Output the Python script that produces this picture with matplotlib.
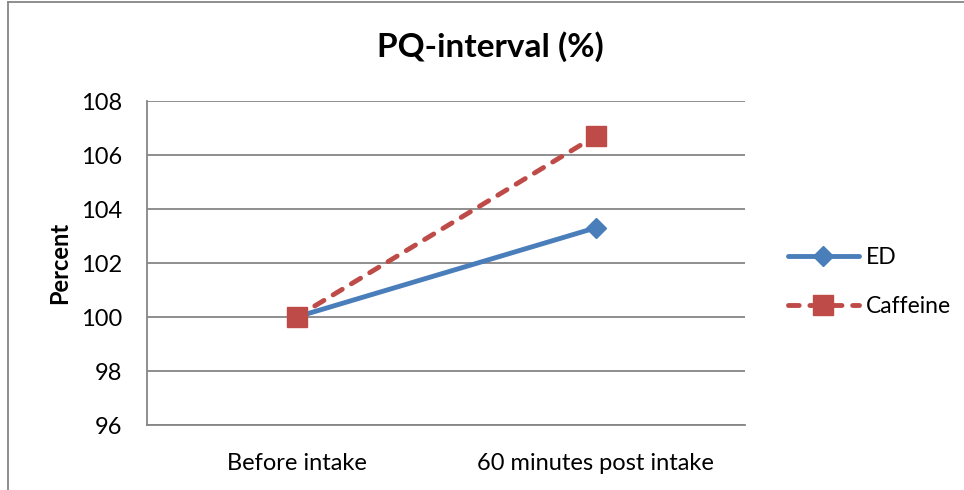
import matplotlib
matplotlib.use("Agg")
import matplotlib.pyplot as plt
from matplotlib.lines import Line2D

categories = ["Before intake", "60 minutes post intake"]
ed_values = [100.0, 103.3]
caffeine_values = [100.0, 106.7]
yticks = [96, 98, 100, 102, 104, 106, 108]

plt.rcParams['font.family'] = ['Lato', 'DejaVu Sans']

fig = plt.figure(figsize=(9.64, 4.9), dpi=100)
W, H = 964, 490
ax = fig.add_axes([147 / W, 1 - 425 / H, (745 - 147) / W, (425 - 101) / H])

x = [0.5, 1.5]
ax.plot(x, ed_values, color="#4A7EBB", lw=3.5, marker="D", markersize=10,
        markerfacecolor="#4A7EBB", markeredgecolor="#4A7EBB", solid_capstyle="round",
        label="ED", zorder=3)
ax.plot(x, caffeine_values, color="#BE4B48", lw=3.5, linestyle=(0, (2.2, 2.2)),
        dash_capstyle="round", marker="s", markersize=14,
        markerfacecolor="#BE4B48", markeredgecolor="#BE4B48",
        label="Caffeine", zorder=4)

ax.set_xlim(0, 2)
ax.set_ylim(96, 108)
ax.set_yticks(yticks)
ax.set_yticklabels([str(v) for v in yticks])
ax.set_xticks(x)
ax.set_xticklabels(categories)
ax.yaxis.grid(True, color="#868686", lw=1.3)
ax.set_axisbelow(True)
for s in ["top", "right"]:
    ax.spines[s].set_visible(False)
ax.spines["left"].set_color("#868686")
ax.spines["bottom"].set_color("#868686")
ax.spines["left"].set_linewidth(1.3)
ax.spines["bottom"].set_linewidth(1.3)
ax.tick_params(axis="both", length=0, labelsize=17, colors="black")
ax.tick_params(axis="y", pad=18)
ax.tick_params(axis="x", pad=20)
ax.set_ylabel("Percent", fontsize=17, fontweight="bold", labelpad=7)

fig.text(490 / W, 1 - 47 / H, "PQ-interval (%)", fontsize=24, fontweight="bold",
         ha="center", va="center")

leg = ax.legend(loc="center left", bbox_to_anchor=(767 / W, 1 - 282 / H),
                bbox_transform=fig.transFigure, frameon=False, fontsize=16.5,
                handlelength=3.1, labelspacing=1.25, handletextpad=0.3)

# figure border (top and left)
fig.add_artist(Line2D([8 / W, 8 / W], [0, 1 - 2 / H], transform=fig.transFigure,
                      color="#868686", lw=1.3))
fig.add_artist(Line2D([8 / W, 1], [1 - 2 / H, 1 - 2 / H], transform=fig.transFigure,
                      color="#868686", lw=1.3))

fig.savefig("out.png", dpi=100)
